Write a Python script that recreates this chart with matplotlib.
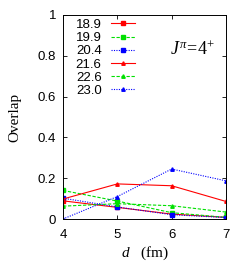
import matplotlib
matplotlib.use("Agg")
import matplotlib.pyplot as plt

plt.rcParams["mathtext.fontset"] = "custom"
plt.rcParams["mathtext.rm"] = "Liberation Serif"
plt.rcParams["mathtext.it"] = "Liberation Serif:italic"

d = [4, 5, 6, 7]
labels = ["18.9", "19.9", "20.4", "21.6", "22.6", "23.0"]
s189 = [0.089, 0.057, 0.024, 0.008]
s199 = [0.140, 0.088, 0.031, 0.008]
s204 = [0.102, 0.059, 0.021, 0.007]
s216 = [0.098, 0.172, 0.163, 0.086]
s226 = [0.063, 0.075, 0.065, 0.034]
s230 = [0.000, 0.110, 0.245, 0.187]
series = [s189, s199, s204, s216, s226, s230]
colors = ["#ff0000", "#00e000", "#0000ff", "#ff0000", "#00e000", "#0000ff"]
styles = ["-", (0, (3, 1.5)), (0, (1, 1.2)), "-", (0, (3, 1.5)), (0, (1, 1.2))]
markers = ["s", "s", "s", "^", "^", "^"]

fig = plt.figure(figsize=(2.49, 2.61), dpi=100)
ax = fig.add_axes([63/249, 1-219/261, (226-63)/249, (219-15)/261])

for y, lab, c, ls, m in zip(series, labels, colors, styles, markers):
    ax.plot(d, y, color=c, linestyle=ls, marker=m, markersize=2.5, linewidth=0.8, label=lab)

ax.set_xlim(4, 7)
ax.set_ylim(0, 1)
ax.set_xticks([4, 5, 6, 7])
ax.set_yticks([0, 0.2, 0.4, 0.6, 0.8, 1.0])
ax.set_yticklabels(["0", "0.2", "0.4", "0.6", "0.8", "1"])
ax.tick_params(direction="in", top=True, right=True, labelsize=9.5, length=3, width=0.6)
ax.tick_params(axis="x", pad=7)
ax.tick_params(axis="y", pad=5)
for sp in ax.spines.values():
    sp.set_linewidth(0.7)
for lbl in ax.get_xticklabels() + ax.get_yticklabels():
    lbl.set_family("Liberation Sans")

ax.set_xlabel(r"$d$   (fm)", family="Liberation Serif", fontsize=11, labelpad=3)
ax.set_ylabel("Overlap", family="Liberation Serif", fontsize=11, labelpad=12)

ax.text(0.93, 0.83, r"$J^{\pi}\!=\!4^{+}$", transform=ax.transAxes, ha="right",
        va="center", fontsize=13, family="Liberation Serif")

leg = ax.legend(loc="upper left", bbox_to_anchor=(0.03, 1.02), frameon=False,
                markerfirst=False, handlelength=1.8, handletextpad=0.7,
                labelspacing=0.07, borderaxespad=0.2,
                prop={"family": "Liberation Sans", "size": 9.5})

fig.savefig("out.png", dpi=100)
